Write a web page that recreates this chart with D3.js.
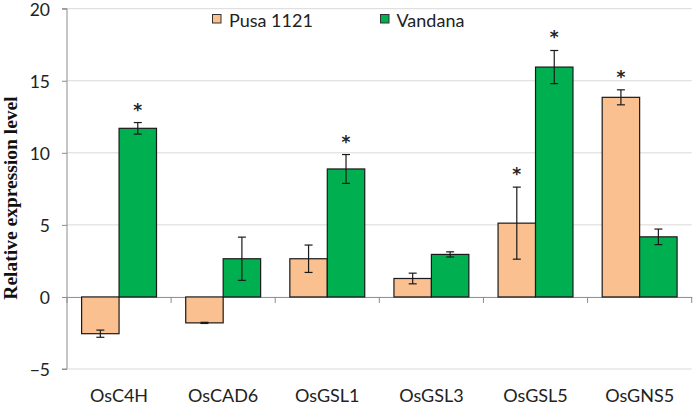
<!DOCTYPE html>
<html><head><meta charset="utf-8">
<script src="https://cdn.jsdelivr.net/npm/d3@7"></script>
<style>body{margin:0;background:#fff}svg{display:block}</style>
</head><body>
<script>
const categories = ["OsC4H","OsCAD6","OsGSL1","OsGSL3","OsGSL5","OsGNS5"];
const seriesNames = ["Pusa 1121","Vandana"];
const pusaValues = [-2.55,-1.8,2.65,1.28,5.12,13.85];
const pusaErrors = [0.25,0.04,0.95,0.37,2.5,0.52];
const pusaSig = [false,false,false,false,true,true];
const vandanaValues = [11.7,2.65,8.88,2.95,15.95,4.17];
const vandanaErrors = [0.4,1.5,1.0,0.18,1.15,0.54];
const vandanaSig = [true,false,true,false,true,false];
const yTicks = [-5,0,5,10,15,20];
const colors = ["#FAC090","#00B050"];

const W=700,H=408;
const svg=d3.select("body").append("svg").attr("width",W).attr("height",H);
const y=d3.scaleLinear().domain([-5,20]).range([369,8.7]);
const x=d3.scaleBand().domain(categories).range([67,691.7]).paddingInner(0).paddingOuter(0);
const xs=d3.scaleBand().domain(seriesNames).range([0,x.bandwidth()]).paddingInner(0).paddingOuter(0.39);
const FONT="Lato, 'Open Sans', sans-serif";

// gridlines
svg.append("g").selectAll("line").data(yTicks.filter(d=>d!==0)).join("line")
  .attr("x1",67).attr("x2",691.7).attr("y1",d=>y(d)).attr("y2",d=>y(d))
  .attr("stroke","#D9D9D9").attr("stroke-width",1);

// y axis
const ya=svg.append("g").attr("transform","translate(67,0)")
  .call(d3.axisLeft(y).tickValues(yTicks).tickSize(5).tickPadding(12));
ya.select(".domain").attr("stroke","#8c8c8c").attr("d",`M-5,${y(20)}H0V${y(-5)}H-5`);
ya.selectAll(".tick line").attr("stroke","#8c8c8c");
ya.selectAll(".tick text").attr("font-family",FONT).attr("font-size",17.5).attr("fill","#222")
  .attr("dy","0.36em");

// x axis at zero
const xa=svg.append("g").attr("transform",`translate(0,${y(0)})`)
  .call(d3.axisBottom(x).tickSize(0).tickFormat(""));
xa.select(".domain").attr("stroke","#8c8c8c");
xa.selectAll(".tick").remove();
const bounds=categories.map(c=>x(c)).concat([x.range()[1]]);
svg.append("g").selectAll("line").data(bounds).join("line")
  .attr("x1",d=>d).attr("x2",d=>d)
  .attr("y1",y(0)).attr("y2",y(0)+6).attr("stroke","#8c8c8c");

// category labels
svg.append("g").selectAll("text").data(categories).join("text")
  .attr("x",d=>x(d)+x.bandwidth()/2).attr("y",402)
  .attr("text-anchor","middle").attr("font-family",FONT)
  .attr("font-size",18).attr("fill","#222").text(d=>d);

const series=[
  {name:seriesNames[0],values:pusaValues,errors:pusaErrors,sig:pusaSig,color:colors[0]},
  {name:seriesNames[1],values:vandanaValues,errors:vandanaErrors,sig:vandanaSig,color:colors[1]}
];
series.forEach(s=>{
  const data=categories.map((c,i)=>({c,v:s.values[i],e:s.errors[i],sig:s.sig[i]}));
  const g=svg.append("g");
  g.selectAll("rect").data(data).join("rect")
    .attr("x",d=>x(d.c)+xs(s.name)).attr("width",xs.bandwidth())
    .attr("y",d=>y(Math.max(0,d.v))).attr("height",d=>Math.abs(y(d.v)-y(0)))
    .attr("fill",s.color).attr("stroke","#1a1a1a").attr("stroke-width",1.2);
  const cx=d=>x(d.c)+xs(s.name)+xs.bandwidth()/2;
  const eb=g.selectAll("g.eb").data(data).join("g").attr("class","eb");
  eb.append("line").attr("x1",cx).attr("x2",cx).attr("y1",d=>y(d.v+d.e)).attr("y2",d=>y(d.v-d.e));
  eb.append("line").attr("x1",d=>cx(d)-4).attr("x2",d=>cx(d)+4).attr("y1",d=>y(d.v+d.e)).attr("y2",d=>y(d.v+d.e));
  eb.append("line").attr("x1",d=>cx(d)-4).attr("x2",d=>cx(d)+4).attr("y1",d=>y(d.v-d.e)).attr("y2",d=>y(d.v-d.e));
  eb.selectAll("line").attr("stroke","#1a1a1a").attr("stroke-width",1.2);
  g.selectAll("text").data(data.filter(d=>d.sig)).join("text")
    .attr("x",cx).attr("y",d=>y(d.v+d.e)-7)
    .attr("text-anchor","middle").attr("font-family","'DejaVu Sans', sans-serif").attr("font-size",17)
    .attr("font-weight","bold").attr("fill","#222").text("*");
});

// legend
const leg=[{x:212.5,tx:229},{x:380.5,tx:396.5}];
series.forEach((s,i)=>{
  svg.append("rect").attr("x",leg[i].x).attr("y",14.5).attr("width",8.5).attr("height",8.5)
    .attr("fill",s.color).attr("stroke","#333").attr("stroke-width",1);
  svg.append("text").attr("x",leg[i].tx).attr("y",26.5).attr("font-family",FONT)
    .attr("font-size",18).attr("fill","#222").text(s.name);
});

// y title
svg.append("text").attr("transform","translate(17,198) rotate(-90)")
  .attr("text-anchor","middle").attr("font-family","'Liberation Serif', 'Times New Roman', serif")
  .attr("font-weight","bold").attr("font-size",19.5).attr("fill","#111")
  .text("Relative expression level");
</script>
</body></html>
